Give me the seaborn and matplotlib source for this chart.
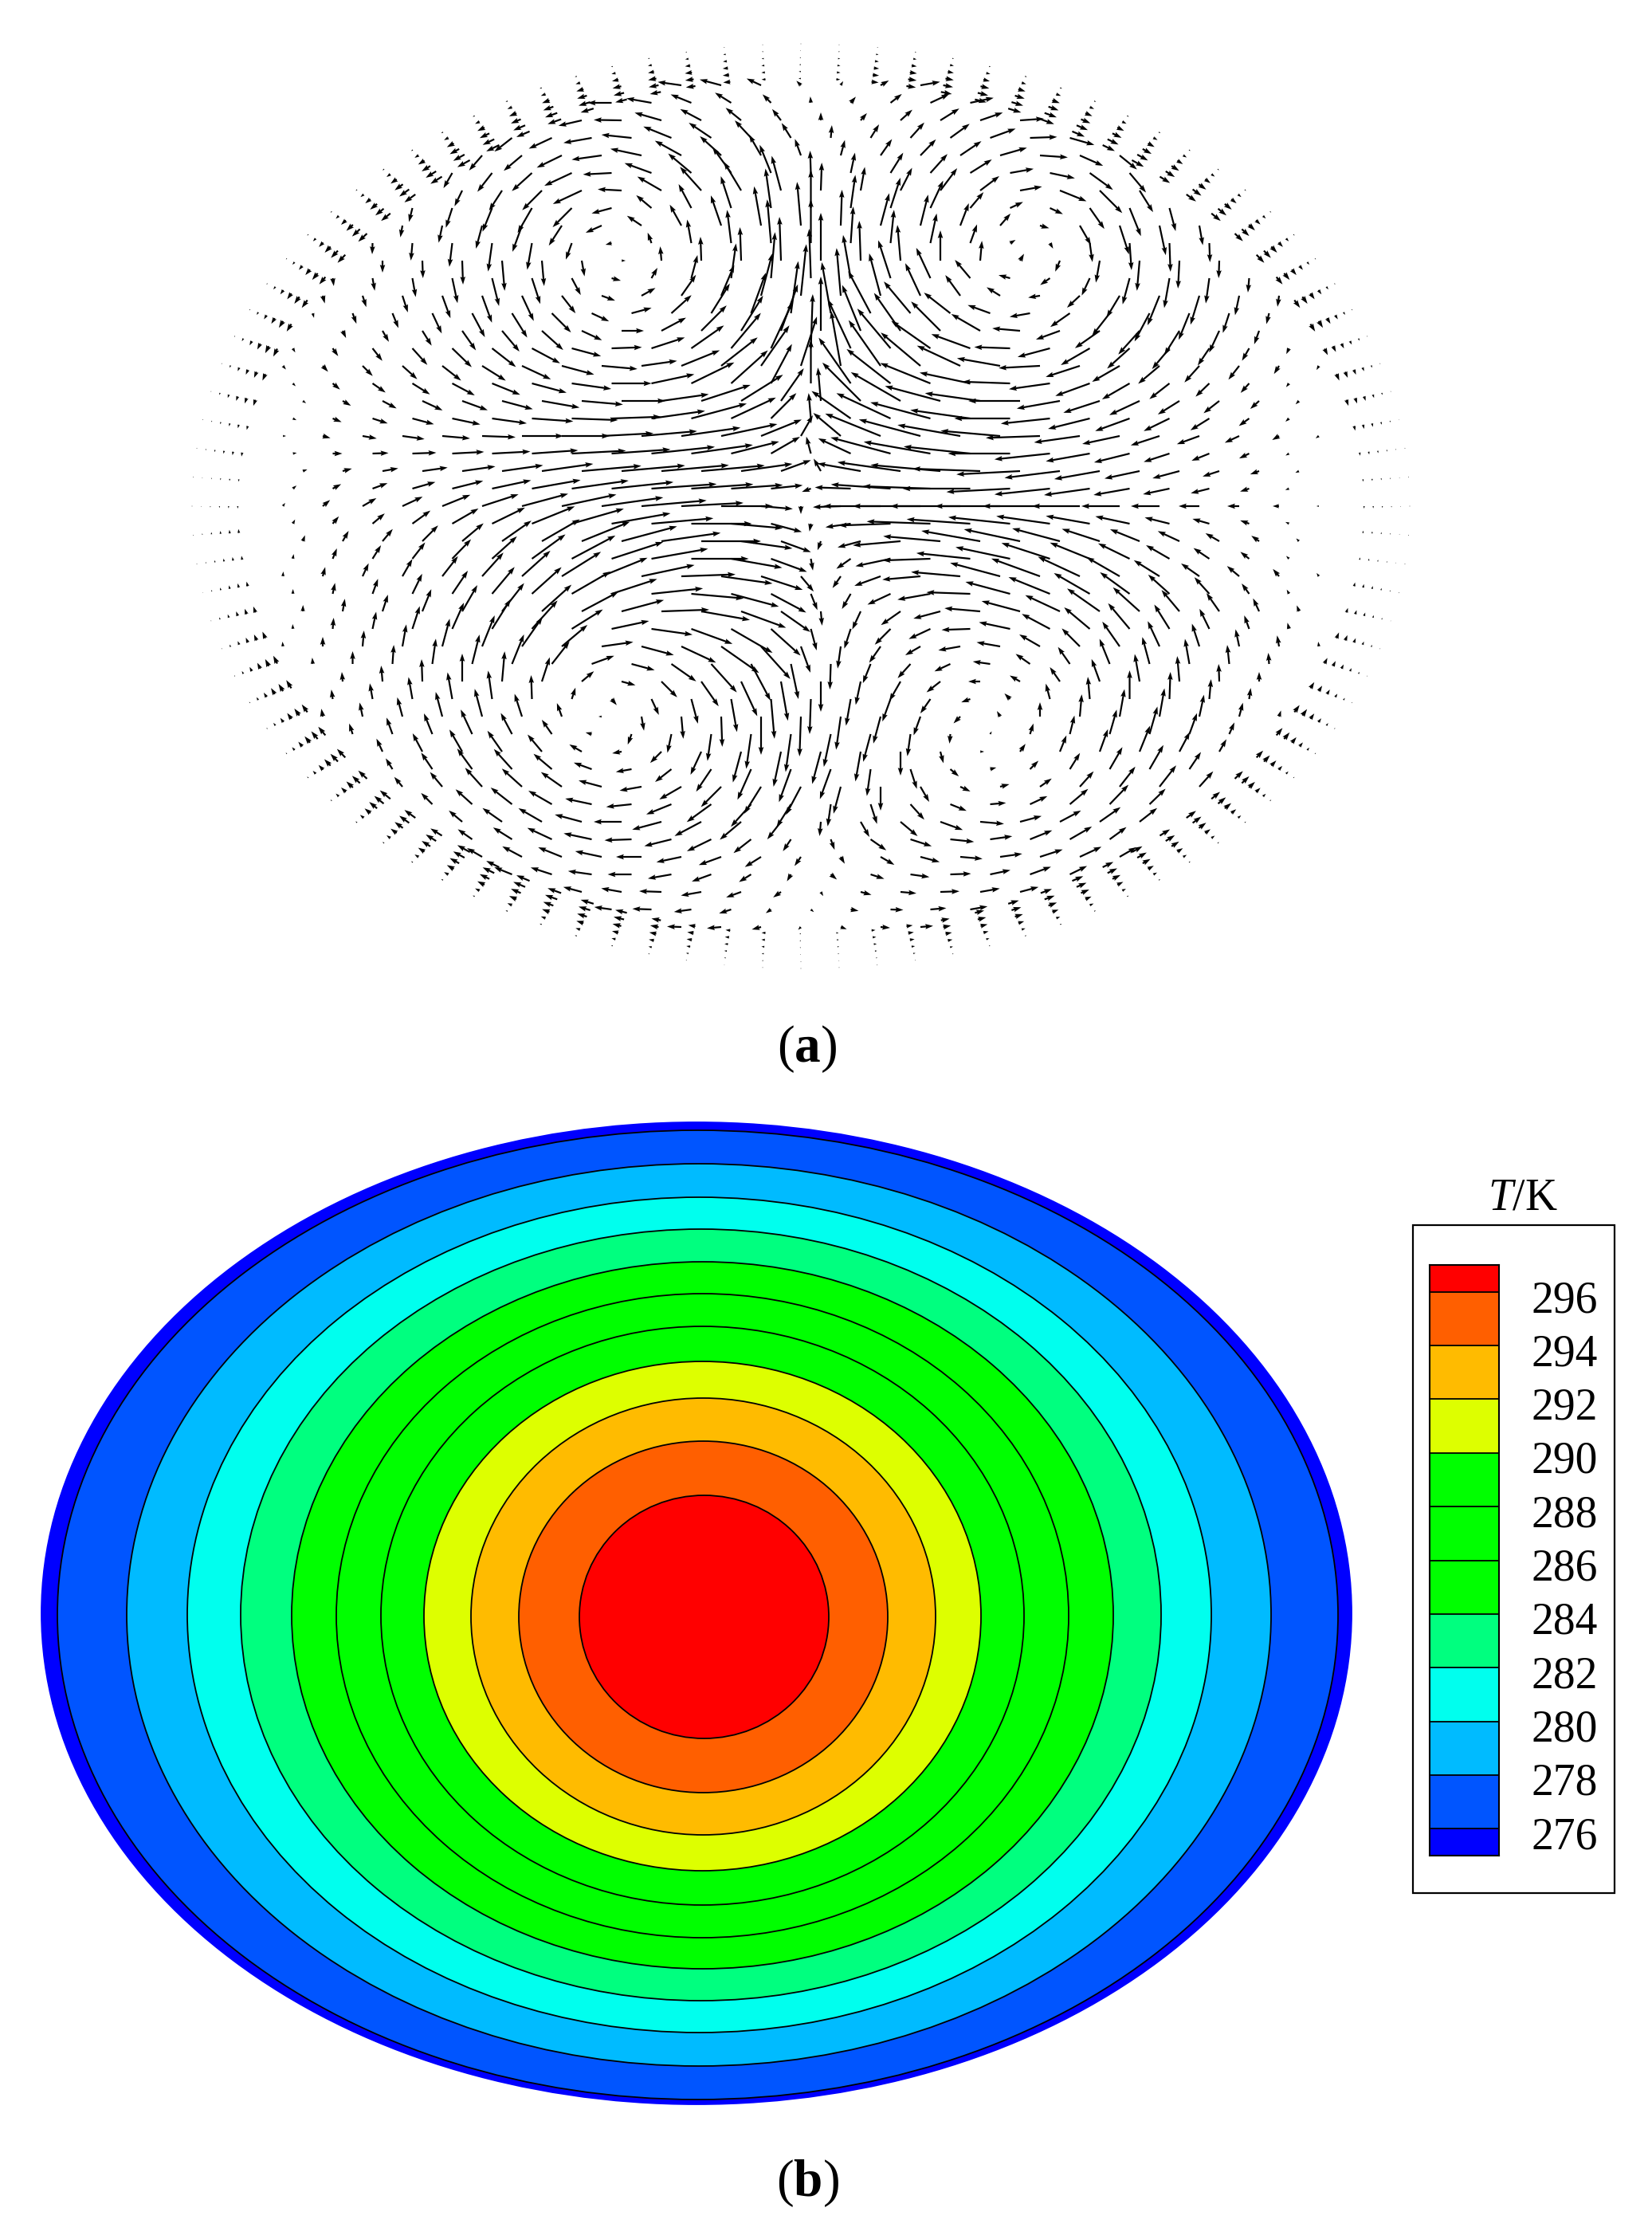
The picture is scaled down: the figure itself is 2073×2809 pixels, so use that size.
import matplotlib
matplotlib.use("Agg")
import matplotlib.pyplot as plt
from matplotlib.colors import ListedColormap
from matplotlib.patches import Ellipse, Rectangle
import numpy as np
import seaborn as sns

# (a) velocity vectors
# row_y = height above the centre line, row_x0 = first column in the row (50 px columns)
row_y = [528, 484, 440, 396, 352, 308, 264, 220, 176, 132, 88, 44, 0,
         -44, -88, -132, -176, -220, -264, -308, -352, -396, -440, -484, -528]
row_x0 = [-3, -5.5, -8, -8.5, -10, -10.5, -12, -11.5, -13, -12.5, -13, -12.5, -13,
          -12.5, -13, -12.5, -13, -11.5, -12, -10.5, -10, -8.5, -8, -5.5, -3]
arrow_angle = [
    [172, 165, 155, 135, 60, 30, 10],
    [193, 179, 164, 152, 141, 128, 90, 49, 42, 32, 19, 4],
    [229, 220, 206, 188, 168, 151, 138, 120, 110, 75, 55, 46, 34, 16, -4, -24, -39],
    [244, 237, 225, 205, 177, 150, 132, 121, 105, 88, 80, 63, 53, 37, 10, -22, -45, -58],
    [260, 258, 255, 250, 237, 204, 146, 119, 109, 100, 95, 88, 75, 76, 69, 49, -16, -60, -72, -78, -80],
    [270, 272, 272, 275, 275, 280, 0, 95, 92, 92, 92, 90, 92, 95, 90, 85, 60, -113, -100, -95, -93, -92],
    [285, 288, 288, 290, 290, 295, 308, 340, 29, 55, 67, 75, 84, 95, 105, 115, 126, 148, 189, 223, 239, 248, 253, 258, 262],
    [295, 300, 302, 305, 310, 318, 335, 0, 28, 45, 58, 70, 90, 112, 125, 135, 150, 175, 200, 215, 228, 238, 245, 250],
    [310, 312, 315, 318, 322, 328, 335, 345, 355, 8, 22, 38, 55, 72, 100, 125, 140, 155, 170, 183, 198, 210, 220, 228, 232, 238, 240],
    [325, 330, 332, 335, 340, 345, 350, 355, 0, 8, 18, 32, 55, 95, 135, 150, 165, 172, 180, 190, 198, 205, 212, 218, 222, 225],
    [0, 345, 350, 352, 355, 358, 0, 0, 3, 5, 8, 12, 22, 60, 140, 158, 165, 170, 175, 182, 188, 192, 198, 200, 205, 210, 215],
    [20, 15, 10, 8, 8, 8, 8, 5, 5, 5, 5, 8, 20, 120, 170, 172, 175, 178, 183, 187, 190, 192, 195, 198, 200, 205],
    [55, 40, 30, 25, 22, 18, 15, 12, 8, 5, 3, 0, 355, 270, 182, 180, 180, 180, 180, 180, 180, 180, 180, 180, 180, 180, 180],
    [70, 60, 50, 45, 40, 35, 30, 22, 15, 8, 0, 352, 340, 250, 195, 185, 175, 170, 168, 165, 162, 158, 155, 150, 145, 135],
    [85, 75, 65, 60, 52, 48, 42, 32, 22, 12, 2, 352, 342, 310, 235, 200, 185, 175, 165, 160, 155, 150, 148, 145, 140, 130, 125],
    [88, 80, 72, 68, 60, 52, 42, 28, 15, 2, 350, 340, 325, 275, 245, 215, 195, 175, 165, 155, 145, 138, 130, 125, 115, 110],
    [95, 90, 85, 80, 75, 68, 55, 40, 8, 345, 335, 325, 312, 290, 262, 235, 210, 190, 170, 150, 135, 125, 115, 108, 102, 100, 98],
    [95, 95, 92, 90, 85, 72, 40, 345, 315, 305, 295, 280, 270, 258, 240, 218, 180, 150, 125, 110, 100, 95, 92, 90],
    [100, 102, 105, 105, 105, 108, 110, 180, 280, 275, 272, 270, 268, 262, 255, 250, 225, 120, 90, 85, 80, 80, 78, 75, 72],
    [115, 118, 120, 125, 130, 150, 190, 225, 245, 255, 258, 255, 260, 270, 285, 0, 55, 68, 70, 68, 62, 60],
    [130, 130, 132, 138, 145, 165, 190, 210, 225, 238, 242, 255, 270, 300, 335, 15, 35, 48, 52, 52, 48],
    [140, 145, 150, 165, 180, 195, 208, 220, 232, 265, 300, 320, 340, 355, 15, 28, 35, 38],
    [150, 152, 158, 168, 180, 192, 200, 212, 235, 300, 330, 345, 355, 8, 18, 25, 30],
    [165, 170, 178, 190, 200, 215, 300, 345, 355, 2, 10, 15],
    [178, 185, 195, 225, 340, 355, 5],
]
arrow_speed = [
    [30, 28, 20, 8, 6, 12, 25],
    [30, 35, 35, 30, 25, 18, 10, 12, 20, 28, 30, 30],
    [25, 30, 35, 38, 40, 38, 36, 30, 22, 20, 25, 28, 32, 35, 35, 32, 28],
    [22, 30, 35, 40, 30, 35, 40, 42, 45, 35, 30, 32, 35, 30, 28, 36, 40, 32],
    [15, 22, 30, 35, 30, 22, 22, 30, 40, 50, 55, 45, 42, 40, 30, 20, 12, 28, 38, 38, 25],
    [15, 22, 30, 38, 32, 20, 5, 18, 30, 42, 55, 60, 50, 45, 38, 25, 10, 15, 28, 38, 35, 22],
    [10, 15, 22, 30, 36, 35, 28, 18, 20, 32, 42, 55, 65, 60, 55, 45, 32, 20, 15, 22, 32, 40, 38, 25, 14],
    [10, 16, 22, 30, 34, 36, 28, 28, 35, 45, 52, 62, 68, 62, 58, 52, 42, 35, 32, 38, 40, 36, 30, 18],
    [6, 10, 18, 25, 30, 35, 40, 42, 45, 45, 52, 58, 62, 65, 70, 70, 65, 60, 55, 52, 45, 40, 35, 28, 22, 12, 6],
    [5, 12, 20, 28, 34, 40, 48, 52, 55, 60, 65, 62, 50, 42, 68, 72, 72, 70, 65, 55, 48, 42, 32, 25, 15, 6],
    [4, 10, 18, 28, 35, 42, 52, 60, 65, 70, 75, 72, 55, 30, 45, 75, 80, 80, 75, 68, 58, 48, 38, 30, 20, 10, 5],
    [6, 12, 20, 32, 42, 52, 65, 75, 80, 85, 80, 65, 40, 18, 55, 80, 88, 85, 80, 70, 58, 45, 35, 22, 12, 5],
    [5, 12, 20, 28, 38, 48, 60, 70, 78, 82, 78, 65, 40, 10, 35, 72, 85, 88, 82, 72, 60, 48, 36, 26, 15, 8, 3],
    [8, 15, 20, 28, 35, 45, 55, 65, 72, 75, 75, 65, 40, 12, 30, 60, 72, 75, 72, 62, 50, 40, 30, 20, 12, 5],
    [6, 12, 18, 25, 32, 40, 48, 58, 62, 68, 68, 65, 55, 25, 18, 35, 48, 62, 65, 65, 58, 48, 38, 28, 20, 12, 5],
    [8, 16, 22, 30, 38, 45, 50, 52, 55, 60, 62, 60, 45, 18, 25, 30, 35, 45, 50, 48, 50, 45, 35, 28, 18, 8],
    [6, 12, 20, 28, 36, 42, 45, 42, 40, 42, 48, 58, 55, 35, 28, 25, 22, 28, 30, 30, 32, 38, 35, 30, 22, 14, 6],
    [12, 20, 28, 35, 38, 32, 20, 18, 28, 38, 48, 50, 38, 30, 28, 22, 15, 15, 22, 30, 35, 32, 22, 12],
    [10, 18, 25, 32, 36, 30, 18, 4, 18, 28, 38, 48, 50, 42, 35, 25, 12, 8, 18, 28, 35, 36, 28, 18, 8],
    [18, 26, 32, 32, 28, 18, 12, 20, 32, 40, 45, 42, 38, 30, 15, 5, 12, 22, 30, 35, 28, 18],
    [16, 24, 32, 34, 32, 30, 28, 32, 36, 40, 40, 35, 30, 22, 14, 12, 18, 26, 32, 34, 26],
    [22, 30, 34, 35, 35, 38, 38, 35, 28, 18, 22, 28, 30, 30, 28, 30, 32, 28],
    [22, 28, 32, 34, 32, 32, 30, 24, 14, 10, 20, 25, 28, 28, 30, 30, 24],
    [24, 26, 28, 26, 20, 12, 6, 14, 20, 24, 25, 24],
    [18, 18, 12, 5, 8, 12, 16],
]

# second pass over the picture, the arrows that sit between those rows
fill_y = [506, 462, 418, 374, 330, 286, 242, 198, 154, 110, 66, 22,
          -22, -66, -110, -154, -198, -242, -286, -330, -374, -418, -462, -506]
fill_x0 = [-4.75, -7.25, -8.75, -9.75, -10.75, -11.75, -12.25, -12.75, -12.75, -12.75, -12.75, -12.75,
           -12.75, -12.75, -12.75, -12.75, -12.25, -11.75, -11.25, -10.25, -9.25, -8.25, -7.25, -4.75]
fill_angle = [
    [180, 170, 158, 148, 135, 95, 50, 38, 25, 12],
    [218, 205, 190, 174, 158, 146, 133, 122, 85, 58, 48, 36, 20, 2, -16],
    [240, 232, 222, 205, 183, 160, 140, 126, 112, 92, 78, 58, 48, 32, 10, -12, -36, -50],
    [256, 252, 248, 240, 225, 195, 140, 118, 108, 98, 90, 82, 72, 65, 50, 25, -25, -55, -68, -75],
    [268, 265, 263, 262, 260, 250, 195, 110, 100, 97, 95, 90, 86, 84, 78, 70, 30, -60, -82, -86, -88, -88],
    [278, 280, 280, 282, 284, 288, 298, 345, 60, 75, 82, 85, 92, 100, 108, 115, 130, 165, 215, 245, 255, 260, 262, 265],
    [285, 290, 292, 295, 298, 302, 315, 335, 15, 42, 58, 70, 82, 100, 118, 130, 142, 160, 190, 215, 232, 242, 248, 252, 256],
    [300, 305, 308, 312, 316, 322, 332, 345, 2, 18, 35, 50, 65, 88, 115, 130, 145, 160, 178, 195, 210, 222, 230, 236, 240, 245],
    [315, 320, 325, 328, 332, 338, 345, 352, 0, 12, 26, 42, 62, 90, 125, 142, 158, 168, 178, 188, 200, 210, 218, 224, 228, 232],
    [335, 338, 342, 345, 348, 352, 356, 358, 2, 8, 15, 25, 45, 95, 145, 155, 165, 172, 180, 186, 194, 200, 206, 212, 216, 222],
    [10, 0, 2, 2, 3, 3, 4, 3, 4, 6, 8, 14, 30, 105, 155, 165, 170, 174, 180, 186, 190, 194, 198, 202, 206, 210],
    [40, 28, 20, 16, 14, 12, 10, 8, 6, 4, 4, 4, 6, 200, 178, 176, 178, 180, 183, 186, 188, 190, 192, 194, 198, 200],
    [62, 50, 40, 36, 30, 26, 22, 16, 10, 5, 0, 355, 345, 260, 188, 182, 178, 176, 174, 172, 170, 168, 166, 164, 160, 155],
    [80, 68, 58, 52, 46, 42, 36, 28, 18, 10, 0, 350, 340, 280, 215, 192, 182, 174, 168, 162, 158, 154, 150, 146, 142, 135],
    [88, 78, 70, 64, 56, 50, 42, 30, 18, 6, 355, 345, 332, 292, 240, 205, 190, 178, 165, 158, 150, 144, 138, 132, 126, 118],
    [92, 85, 78, 72, 66, 58, 48, 32, 12, 352, 340, 330, 318, 285, 252, 225, 205, 182, 168, 152, 140, 130, 122, 116, 110, 104],
    [95, 90, 86, 82, 76, 68, 52, 20, 345, 325, 312, 298, 282, 268, 248, 228, 205, 172, 145, 125, 112, 105, 100, 96, 94],
    [98, 100, 100, 100, 98, 92, 72, 310, 295, 285, 280, 275, 268, 260, 250, 235, 200, 135, 105, 95, 90, 88, 85, 82],
    [108, 110, 112, 115, 118, 125, 165, 250, 258, 262, 262, 262, 258, 255, 262, 265, 60, 72, 76, 74, 74, 70, 66],
    [122, 124, 126, 132, 140, 160, 190, 218, 236, 246, 250, 250, 262, 288, 320, 15, 45, 58, 60, 60, 56],
    [135, 138, 142, 150, 168, 186, 202, 216, 228, 238, 262, 288, 312, 338, 5, 25, 40, 46, 44],
    [145, 148, 155, 168, 182, 194, 206, 218, 236, 290, 325, 342, 354, 8, 22, 30, 36],
    [158, 162, 172, 180, 190, 200, 212, 240, 320, 342, 352, 2, 12, 20, 26],
    [172, 178, 188, 198, 215, 320, 350, 358, 5, 10],
]
fill_speed = [
    [30, 32, 28, 24, 15, 8, 10, 18, 26, 30],
    [28, 32, 36, 38, 38, 34, 30, 22, 16, 20, 26, 30, 34, 34, 32],
    [22, 30, 34, 38, 36, 36, 38, 40, 38, 28, 26, 30, 32, 32, 30, 32, 36, 32],
    [18, 26, 32, 36, 34, 26, 25, 34, 42, 50, 48, 42, 40, 38, 26, 18, 18, 32, 38, 30],
    [14, 22, 30, 36, 34, 22, 8, 14, 30, 42, 55, 55, 46, 42, 38, 25, 8, 8, 24, 34, 36, 24],
    [10, 16, 24, 32, 36, 34, 24, 12, 15, 30, 44, 58, 62, 55, 50, 42, 30, 15, 15, 24, 34, 38, 32, 18],
    [6, 14, 20, 28, 34, 36, 34, 24, 26, 34, 44, 54, 66, 65, 60, 52, 42, 30, 26, 30, 36, 40, 36, 26, 14],
    [6, 12, 20, 28, 34, 38, 40, 38, 38, 44, 50, 58, 64, 68, 68, 65, 60, 52, 45, 42, 42, 38, 34, 26, 18, 8],
    [5, 12, 20, 26, 32, 38, 45, 50, 50, 55, 60, 62, 56, 55, 70, 70, 68, 65, 60, 52, 46, 40, 32, 24, 16, 6],
    [5, 12, 20, 28, 36, 44, 52, 58, 62, 68, 72, 62, 45, 32, 60, 75, 78, 76, 70, 62, 54, 46, 36, 28, 16, 6],
    [5, 12, 20, 30, 40, 48, 58, 68, 74, 80, 78, 62, 42, 22, 45, 78, 85, 84, 78, 70, 56, 46, 34, 24, 14, 5],
    [6, 12, 20, 30, 40, 50, 62, 72, 78, 82, 78, 65, 40, 12, 45, 75, 85, 85, 80, 70, 58, 46, 34, 24, 12, 5],
    [6, 12, 20, 28, 38, 46, 58, 68, 75, 78, 76, 65, 40, 10, 32, 65, 80, 80, 78, 68, 56, 44, 32, 22, 12, 5],
    [6, 14, 20, 26, 34, 42, 52, 62, 68, 72, 72, 65, 48, 15, 22, 45, 60, 68, 70, 64, 54, 44, 34, 24, 14, 5],
    [6, 14, 20, 28, 35, 44, 50, 56, 60, 65, 66, 62, 50, 22, 22, 32, 42, 55, 58, 56, 52, 46, 36, 28, 16, 6],
    [6, 14, 22, 30, 36, 44, 48, 46, 48, 52, 55, 60, 50, 28, 26, 28, 30, 36, 40, 40, 42, 42, 36, 28, 18, 8],
    [8, 16, 24, 32, 38, 40, 36, 30, 30, 38, 48, 52, 45, 32, 26, 24, 22, 22, 22, 26, 34, 35, 32, 24, 14],
    [12, 20, 28, 34, 36, 30, 15, 10, 22, 32, 42, 50, 44, 34, 30, 22, 12, 10, 20, 28, 36, 34, 25, 14],
    [14, 22, 28, 34, 30, 22, 8, 14, 24, 34, 44, 48, 42, 36, 28, 12, 4, 14, 24, 32, 36, 28, 16],
    [16, 25, 32, 34, 30, 24, 20, 26, 34, 42, 44, 40, 34, 26, 14, 8, 15, 24, 32, 35, 26],
    [20, 28, 34, 34, 34, 32, 34, 38, 38, 34, 28, 26, 26, 22, 20, 24, 30, 34, 28],
    [22, 28, 34, 36, 34, 35, 34, 28, 18, 14, 24, 28, 30, 28, 30, 32, 26],
    [24, 28, 30, 30, 30, 26, 18, 10, 10, 18, 24, 26, 26, 28, 24],
    [22, 24, 22, 16, 8, 5, 10, 16, 20, 22],
]

# stacks of short ticks next to the wall, one stack every 3.6 degrees round the rim
wall_dir = [270, 275, 280, 284, 289, 293, 297, 302, 306, 310, 314, 317, 321, 324, 328, 331, 334, 337, 340, 343, 346, 349, 352, 355, 357,
            180, 183, 185, 188, 191, 194, 197, 200, 203, 206, 209, 212, 216, 219, 223, 226, 230, 234, 238, 243, 247, 251, 256, 260, 265,
            270, 95, 100, 104, 109, 113, 117, 122, 126, 130, 134, 137, 141, 144, 148, 151, 154, 157, 160, 163, 166, 169, 172, 175, 177,
            180, 3, 5, 8, 11, 14, 17, 20, 23, 26, 29, 32, 36, 39, 43, 46, 50, 54, 58, 63, 67, 71, 76, 80, 85]
wall_len = [3, 3, 4, 6, 8, 9, 9, 11, 12, 12, 14, 14, 15, 15, 15, 17, 17, 17, 18, 17, 15, 14, 12, 9, 5,
            3, 5, 9, 12, 14, 15, 17, 18, 18, 18, 18, 17, 17, 15, 15, 14, 12, 12, 11, 11, 9, 8, 5, 5, 3,
            3, 5, 5, 6, 8, 9, 11, 12, 12, 14, 15, 15, 17, 17, 17, 18, 18, 18, 18, 17, 15, 12, 9, 6, 5,
            2, 3, 5, 8, 11, 12, 14, 15, 15, 15, 15, 15, 15, 14, 14, 12, 12, 11, 9, 8, 8, 6, 5, 3, 3]
wall_layer = [1.0, 0.985, 0.97, 0.955, 0.94, 0.925]
wall_fade = [0.15, 0.35, 0.55, 0.75, 0.9, 1.0]

# (b) temperature bands, outermost first: left, right, top, bottom of each band
band_left = [52, 72, 159, 235, 302, 366, 422, 478, 532, 591, 651, 727]
band_right = [1696, 1679, 1595, 1520, 1457, 1397, 1341, 1285, 1231, 1174, 1114, 1040]
band_top = [1408, 1418, 1460, 1502, 1542, 1583, 1623, 1664, 1708, 1754, 1808, 1876]
band_bottom = [2640, 2634, 2592, 2550, 2510, 2470, 2431, 2390, 2347, 2302, 2249, 2181]
band_color = ["#0000FF", "#0055FF", "#00BBFF", "#00FFEE", "#00FF7F", "#00FF00",
              "#00FF00", "#00FF00", "#DDFF00", "#FFBB00", "#FF5F00", "#FF0000"]
legend_levels = [296, 294, 292, 290, 288, 286, 284, 282, 280, 278, 276]
legend_cells = [1, 2, 2, 2, 2, 2, 2, 2, 2, 2, 2, 1]

W, H = 2073, 2809

sns.set_theme(style="white")
plt.rcParams["font.family"] = ["Liberation Serif", "DejaVu Serif"]
plt.rcParams["text.color"] = "black"
plt.rcParams["mathtext.fontset"] = "custom"
plt.rcParams["mathtext.rm"] = "Liberation Serif"
plt.rcParams["mathtext.it"] = "Liberation Serif:italic"
plt.rcParams["mathtext.bf"] = "Liberation Serif:bold"

fig = plt.figure(figsize=(W / 100, H / 100), dpi=100, facecolor="white")


def px_axes(left, top, right, bottom):
    return fig.add_axes([left / W, 1 - bottom / H, (right - left) / W, (bottom - top) / H])


# ---- (a) ----
ax_a = px_axes(0, 0, W, 1260)
ax_a.set_xlim(-1005, W - 1005)
ax_a.set_ylim(635 - 1260, 635)
ax_a.axis("off")

xs, ys, us, vs = [], [], [], []
for y, x0, angles, speeds in zip(row_y + fill_y, row_x0 + fill_x0,
                                 arrow_angle + fill_angle, arrow_speed + fill_speed):
    for i, (ang, sp) in enumerate(zip(angles, speeds)):
        xs.append((x0 + i) * 50)
        ys.append(y)
        us.append(sp * np.cos(np.radians(ang)))
        vs.append(sp * np.sin(np.radians(ang)))

rim = np.radians(np.arange(len(wall_dir)) * 3.6)
for layer, fade in zip(wall_layer, wall_fade):
    xs.extend(764 * layer * np.cos(rim))
    ys.extend(580 * layer * np.sin(rim))
    us.extend(np.array(wall_len) * fade * np.cos(np.radians(wall_dir)))
    vs.extend(np.array(wall_len) * fade * np.sin(np.radians(wall_dir)))

ax_a.quiver(xs, ys, us, vs, angles="xy", scale_units="xy", scale=1, units="dots", width=2.2,
            headwidth=3, headlength=4.5, headaxislength=4, minlength=0.4, color="black")

# ---- (b) ----
ax_b = px_axes(0, 1340, W, H)
ax_b.set_xlim(0, W)
ax_b.set_ylim(H, 1340)
ax_b.axis("off")

for i, color in enumerate(band_color):
    ax_b.add_patch(Ellipse(((band_left[i] + band_right[i]) / 2, (band_top[i] + band_bottom[i]) / 2),
                           band_right[i] - band_left[i], band_bottom[i] - band_top[i],
                           facecolor=color, edgecolor=color if i == 0 else "black", linewidth=1.3))

ax_b.add_patch(Rectangle((1773, 1537), 253, 838, fill=False, edgecolor="black", linewidth=1.6))
ax_b.text(1911, 1503, r"$\mathit{T}$/K", fontsize=40, ha="center", va="center")
for k, level in enumerate(legend_levels):
    ax_b.text(1963, 1632 + k * 67.3, str(level), fontsize=40, ha="center", va="center")

ax_c = px_axes(1794, 1587, 1881, 2328)
cells = np.repeat(np.arange(len(legend_cells)), legend_cells).reshape(-1, 1)
sns.heatmap(cells, ax=ax_c, cmap=ListedColormap(band_color[::-1]), cbar=False,
            xticklabels=False, yticklabels=False, vmin=-0.5, vmax=len(legend_cells) - 0.5)
ax_c.hlines(np.cumsum(legend_cells)[:-1], 0, 1, color="black", linewidth=1.3)
for spine in ax_c.spines.values():
    spine.set_visible(True)
    spine.set_color("black")
    spine.set_linewidth(1.5)

fig.text(1013 / W, 1 - 1316 / H, r"$(\mathbf{a})$", fontsize=47, ha="center", va="center")
fig.text(1013 / W, 1 - 2739 / H, r"$(\mathbf{b})$", fontsize=47, ha="center", va="center")

fig.savefig("out.png", dpi=100, facecolor="white")
